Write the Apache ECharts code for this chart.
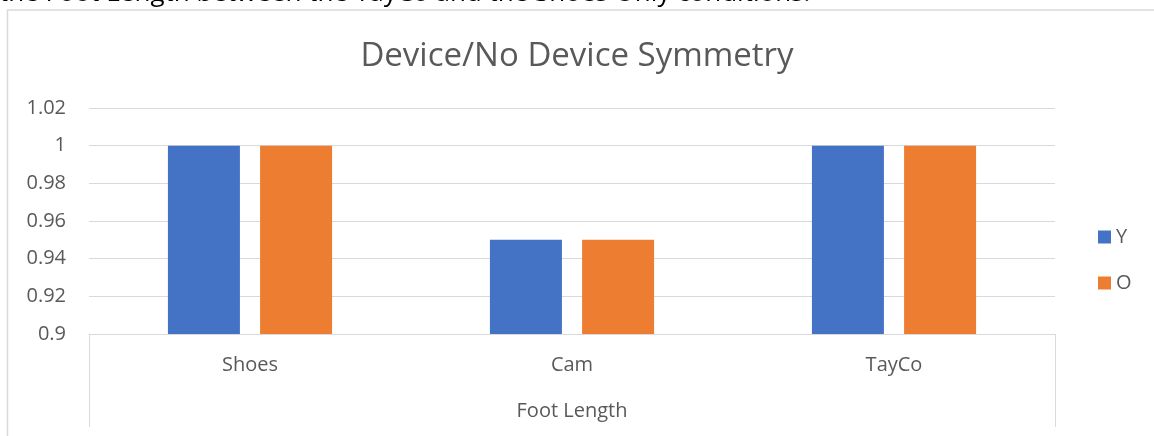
<!DOCTYPE html>
<html>
<head>
<meta charset="utf-8">
<script src="https://cdn.jsdelivr.net/npm/echarts@6/dist/echarts.min.js"></script>
<style>
  html, body { margin: 0; padding: 0; background: #fff; }
  #chart { width: 1154px; height: 436px; }
</style>
</head>
<body>
<div id="chart"></div>
<script>
// data
const categories = ['Shoes', 'Cam', 'TayCo'];
const seriesY = [1, 0.95, 1];
const seriesO = [1, 0.95, 1];
const yTicks = { min: 0.9, max: 1.02, step: 0.02 };

const textColor = '#595959';
const lineColor = '#d9d9d9';
const font = '"Open Sans", sans-serif';

const chart = echarts.init(document.getElementById('chart'));

const option = {
    animation: false,
    textStyle: { fontFamily: font },
    title: {
        text: 'Device/No Device Symmetry',
        left: 'center',
        top: 35,
        textStyle: { fontFamily: font, fontSize: 33, fontWeight: 'normal', color: textColor }
    },
    legend: {
        orient: 'vertical',
        left: 1098,
        top: 227,
        padding: 0,
        itemWidth: 13,
        itemHeight: 13,
        itemGap: 26,
        icon: 'rect',
        textStyle: { fontFamily: font, fontSize: 20, color: textColor, padding: [0, 0, 0, 0] },
        data: ['Y', 'O']
    },
    grid: { left: 89, right: 99, top: 108, bottom: 102 },
    xAxis: {
        type: 'category',
        data: categories,
        name: 'Foot Length',
        nameLocation: 'middle',
        nameGap: 67,
        nameTextStyle: { fontFamily: font, fontSize: 20, color: textColor },
        axisLine: { lineStyle: { color: lineColor, width: 1 } },
        axisTick: {
            show: true,
            length: 93,
            interval: function (i) { return i === 0; },
            lineStyle: { color: lineColor, width: 1 }
        },
        axisLabel: { margin: 21, fontFamily: font, fontSize: 20, color: textColor }
    },
    yAxis: {
        type: 'value',
        min: yTicks.min,
        max: yTicks.max,
        interval: yTicks.step,
        axisLine: { show: false },
        axisTick: { show: false },
        axisLabel: {
            margin: 23,
            fontFamily: font,
            fontSize: 20,
            color: textColor,
            formatter: function (v) { return String(Math.round(v * 100) / 100); }
        },
        splitLine: { lineStyle: { color: lineColor, width: 1 } }
    },
    series: [
        {
            name: 'Y',
            type: 'bar',
            data: seriesY,
            barWidth: 72,
            barGap: '28%',
            itemStyle: { color: '#4472c4' }
        },
        {
            name: 'O',
            type: 'bar',
            data: seriesO,
            barWidth: 72,
            barGap: '28%',
            itemStyle: { color: '#ed7d31' }
        }
    ],
    graphic: [
        {
            // the document's chart frame
            type: 'rect',
            shape: { x: 7.5, y: 10, width: 1200, height: 500 },
            style: { fill: null, stroke: lineColor, lineWidth: 1.5 },
            silent: true
        },
        {
            // clipped line of the document text above the chart
            type: 'text',
            left: -1,
            top: -19,
            style: {
                text: 'the Foot Length between the TayCo and the Shoes Only conditions.',
                fontFamily: font,
                fontSize: 26,
                fill: '#000'
            },
            silent: true
        }
    ]
};

chart.setOption(option);
</script>
</body>
</html>
